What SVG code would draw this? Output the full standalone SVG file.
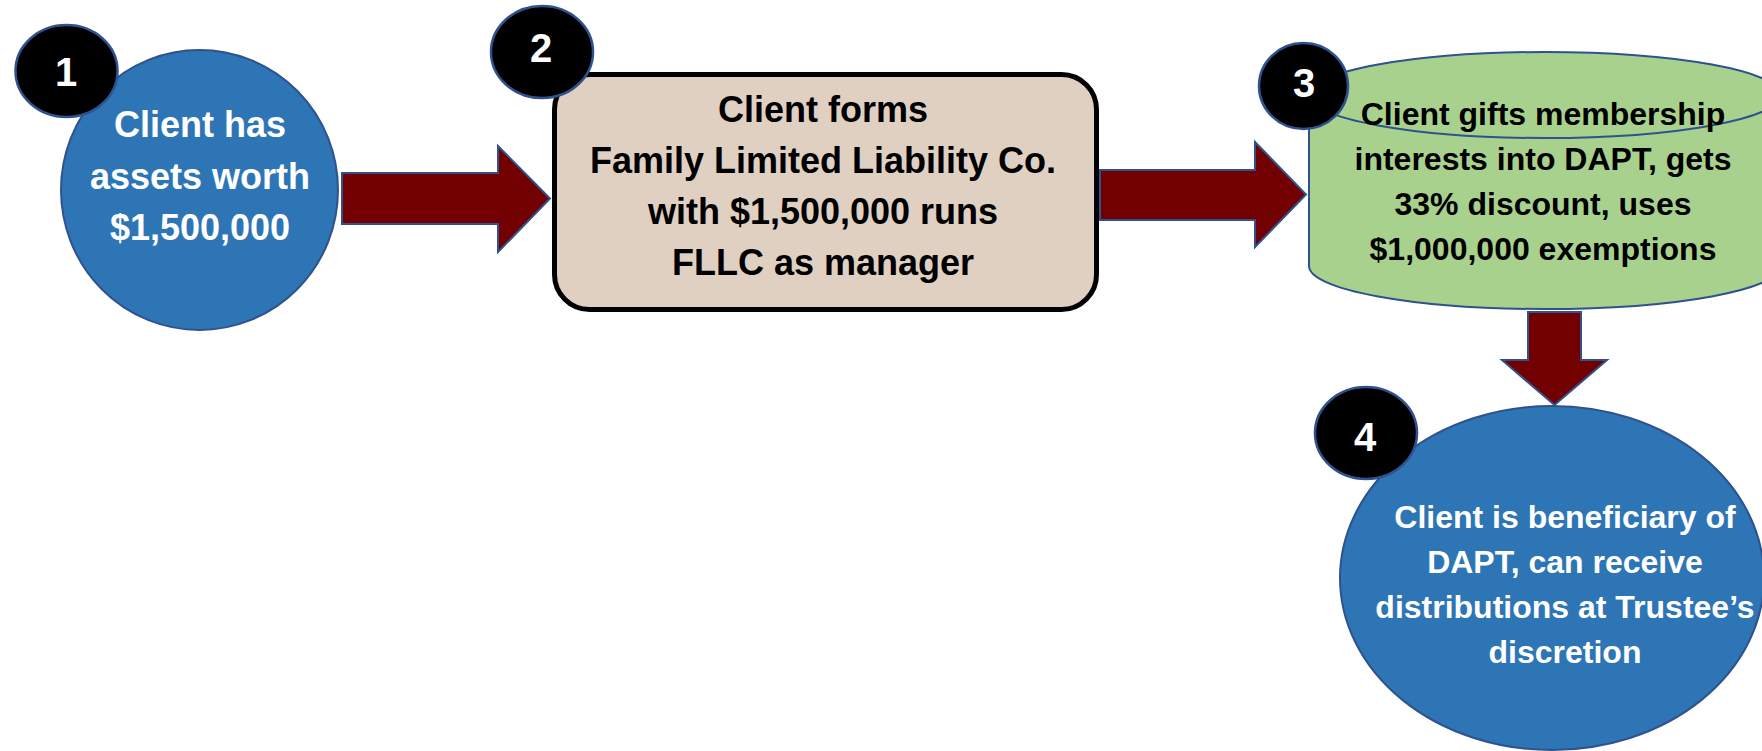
<svg xmlns="http://www.w3.org/2000/svg" width="1762" height="751" viewBox="0 0 1762 751">
  <style>
    .bg { fill: #ffffff; }
    .blue { fill: #2E75B6; stroke: #2F528F; stroke-width: 2; }
    .box { fill: #DFD0C2; stroke: #000000; stroke-width: 5; }
    .drum { fill: #A9D18E; stroke: #2F528F; stroke-width: 2; }
    .badge { fill: #000000; stroke: #2F528F; stroke-width: 2.5; }
    .arrow { fill: #720000; stroke: #2F528F; stroke-width: 2; stroke-linejoin: miter; }
    text { font-family: "Liberation Sans", Arial, sans-serif; font-weight: bold; text-anchor: middle; }
    .num { fill: #ffffff; font-size: 40px; }
    .lg { font-size: 36px; }
    .sm { font-size: 32px; }
    .white { fill: #ffffff; }
    .black { fill: #000000; }
  </style>

  <rect class="bg" x="0" y="0" width="1762" height="751"/>

  <!-- block arrows between the steps -->
  <g id="connectors">
    <polygon class="arrow" points="342,173 498,173 498,146 550,198.5 498,252 498,224 342,224"/>
    <polygon class="arrow" points="1100,170 1255,170 1255,142 1306,194.5 1255,247 1255,220 1100,220"/>
    <polygon class="arrow" points="1528,312 1581,312 1581,360 1607,360 1554.5,405 1502,360 1528,360"/>
  </g>

  <!-- step 1: starting assets -->
  <g id="node1">
    <ellipse class="blue" cx="199.5" cy="190" rx="138.5" ry="140"/>
    <text class="lg white" x="200" y="137">Client has</text>
    <text class="lg white" x="200" y="189">assets worth</text>
    <text class="lg white" x="200" y="240">$1,500,000</text>
    <ellipse class="badge" cx="66.5" cy="71" rx="51" ry="46"/>
    <text class="num" x="66" y="86">1</text>
  </g>

  <!-- step 2: family LLC -->
  <g id="node2">
    <rect class="box" x="554.5" y="74.5" width="542" height="235" rx="35" ry="35"/>
    <text class="lg black" x="823" y="122">Client forms</text>
    <text class="lg black" x="823" y="173">Family Limited Liability Co.</text>
    <text class="lg black" x="823" y="224">with $1,500,000 runs</text>
    <text class="lg black" x="823" y="275">FLLC as manager</text>
    <ellipse class="badge" cx="542" cy="52" rx="51" ry="46"/>
    <text class="num" x="541" y="62">2</text>
  </g>

  <!-- step 3: gift into the DAPT (drum shape) -->
  <g id="node3">
    <path class="drum" d="M1309,95 V266 A236,43 0 0 0 1781,266 V95 Z"/>
    <ellipse class="drum" cx="1545" cy="95" rx="236" ry="43"/>
    <text class="sm black" x="1543" y="125">Client gifts membership</text>
    <text class="sm black" x="1543" y="170">interests into DAPT, gets</text>
    <text class="sm black" x="1543" y="215">33% discount, uses</text>
    <text class="sm black" x="1543" y="260">$1,000,000 exemptions</text>
    <ellipse class="badge" cx="1303.5" cy="86" rx="44.5" ry="43"/>
    <text class="num" x="1304" y="97">3</text>
  </g>

  <!-- step 4: client as beneficiary -->
  <g id="node4">
    <ellipse class="blue" cx="1552" cy="578" rx="212" ry="172"/>
    <text class="sm white" x="1565" y="528">Client is beneficiary of</text>
    <text class="sm white" x="1565" y="573">DAPT, can receive</text>
    <text class="sm white" x="1565" y="618">distributions at Trustee’s</text>
    <text class="sm white" x="1565" y="663">discretion</text>
    <ellipse class="badge" cx="1366" cy="433" rx="51" ry="46"/>
    <text class="num" x="1365" y="451">4</text>
  </g>
</svg>
